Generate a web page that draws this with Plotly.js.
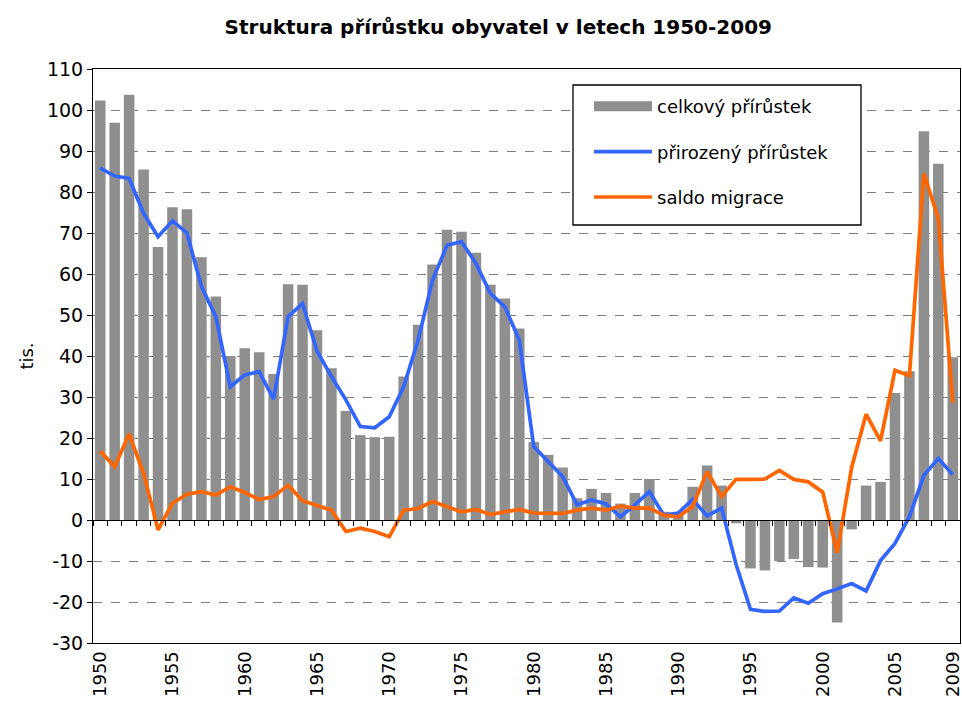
<!DOCTYPE html>
<html>
<head>
<meta charset="utf-8">
<script src="https://cdn.plot.ly/plotly-3.0.1.min.js"></script>
<style>html,body{margin:0;padding:0;background:#fff;}#chart{width:962px;height:707px;}</style>
</head>
<body>
<div id="chart"></div>
<script>
const years = [1950,1951,1952,1953,1954,1955,1956,1957,1958,1959,1960,1961,1962,1963,1964,1965,1966,1967,1968,1969,1970,1971,1972,1973,1974,1975,1976,1977,1978,1979,1980,1981,1982,1983,1984,1985,1986,1987,1988,1989,1990,1991,1992,1993,1994,1995,1996,1997,1998,1999,2000,2001,2002,2003,2004,2005,2006,2007,2008,2009];
const celkovy = [102.3,96.9,103.7,85.5,66.6,76.3,75.8,64.1,54.5,40.0,41.9,40.9,35.6,57.5,57.4,46.3,37.0,26.6,20.7,20.2,20.3,35.0,47.6,62.3,70.8,70.3,65.2,57.4,54.0,46.7,19.0,15.9,12.8,5.3,7.6,6.6,4.0,6.6,10.0,2.0,1.5,8.1,13.3,8.4,-0.8,-11.8,-12.3,-10.0,-9.5,-11.5,-11.6,-25.0,-2.3,8.4,9.3,31.0,36.3,94.8,86.9,39.7];
const prirozeny = [85.8,83.9,83.3,74.8,69.1,73.0,70.0,57.0,49.6,32.5,35.4,36.2,29.5,49.6,52.8,41.2,35.0,29.3,22.8,22.5,25.2,32.5,43.9,58.5,67.0,67.9,62.6,55.3,52.0,43.9,17.9,14.4,10.6,3.7,4.9,3.9,0.8,3.7,6.9,1.2,1.7,5.0,1.0,2.9,-10.8,-21.8,-22.3,-22.2,-19.0,-20.3,-18.0,-16.8,-15.5,-17.3,-9.9,-5.7,0.8,10.9,15.0,11.1];
const saldo = [16.8,13.0,21.0,11.4,-2.4,4.1,6.3,6.9,6.1,8.1,6.7,5.0,5.7,8.5,4.7,3.6,2.4,-2.8,-2.0,-2.8,-4.1,2.4,2.8,4.5,3.3,2.0,2.6,1.3,2.0,2.6,1.7,1.6,1.6,2.4,2.9,2.4,3.4,2.9,2.9,1.2,0.8,3.3,11.8,5.7,9.9,9.9,10.0,12.1,9.9,9.3,6.8,-8.0,12.8,25.8,19.3,36.5,35.2,84.5,73.5,28.6];
const tickYears = [1950,1955,1960,1965,1970,1975,1980,1985,1990,1995,2000,2005,2009];
const yTickVals = [-30,-20,-10,0,10,20,30,40,50,60,70,80,90,100,110];
const yTickText = ['-30','-20','-10','0','10','20','30','40','50','60','70','80','90','100','110'];
const names = ['celkový přírůstek','přirozený přírůstek','saldo migrace'];

const FONT = 'DejaVu Sans, Liberation Sans, Arial, sans-serif';
const GRAY = '#8f8f8f', BLUE = '#3366ff', ORANGE = '#ff6600';

// plot area in pixels (for converting layout boxes to paper coords)
const L = 93, R = 960, T = 69, B = 643;
const px = v => (v - L) / (R - L);
const py = v => (B - v) / (B - T);

const data = [
  {type:'bar', x:years, y:celkovy, marker:{color:GRAY}, showlegend:false, hoverinfo:'x+y'},
  {type:'scatter', mode:'lines', x:[null], y:[null], name:names[0], line:{color:GRAY, width:11}, legendgroup:'a', hoverinfo:'skip'},
  {type:'scatter', mode:'lines', x:years, y:prirozeny, name:names[1], line:{color:BLUE, width:3.7}, legendgroup:'b'},
  {type:'scatter', mode:'lines', x:years, y:saldo, name:names[2], line:{color:ORANGE, width:3.7}, legendgroup:'c'},
  {type:'scatter', mode:'markers', x:[null], y:[null], xaxis:'x2', showlegend:false, hoverinfo:'skip'}
];

const layout = {
  width:962, height:707,
  margin:{l:L, r:962-R, t:T, b:707-B},
  paper_bgcolor:'#fff', plot_bgcolor:'#fff',
  font:{family:FONT, size:18, color:'#000'},
  title:{text:'<b>Struktura přírůstku obyvatel v letech 1950-2009</b>', font:{family:FONT, size:20, color:'#000'},
         x:0.518, xref:'container', xanchor:'center', y:1-27/707, yref:'container', yanchor:'middle'},
  bargap:0.27,
  xaxis:{range:[1949.5,2009.5], tickmode:'array', tickvals:tickYears, ticktext:tickYears.map(String),
         tickangle:-90, ticks:'', ticklabeloverflow:'allow', showgrid:false, zeroline:false, showline:true, linecolor:'#000', linewidth:1, mirror:true,
         tickfont:{family:FONT, size:18, color:'#000'}},
  xaxis2:{overlaying:'x', anchor:'free', position:30/140, range:[1949.5,2009.5], tickmode:'linear', tick0:1949.5, dtick:1,
          ticks:'outside', ticklen:5, tickcolor:'#000', tickwidth:1, showticklabels:false, showgrid:false, zeroline:false,
          showline:true, linecolor:'#000', linewidth:1},
  yaxis:{range:[-30,110], tickmode:'array', tickvals:yTickVals, ticktext:yTickText, ticks:'outside', ticklen:5, tickcolor:'#000', showline:true, linecolor:'#000', linewidth:1, mirror:true,
         showgrid:true, gridcolor:'#808080', griddash:'dash', gridwidth:1, zeroline:false,
         tickfont:{family:FONT, size:19, color:'#000'},
         title:{text:'tis.', font:{family:FONT, size:18, color:'#000'}, standoff:8}},
  legend:{x:px(589), y:py(88), xanchor:'left', yanchor:'top', bgcolor:'rgba(0,0,0,0)', borderwidth:0,
          traceorder:'grouped', tracegroupgap:19, itemwidth:58, font:{family:FONT, size:18, color:'#000'}},
  shapes:[{type:'rect', xref:'paper', yref:'paper', x0:px(573), x1:px(861), y0:py(85), y1:py(225),
           line:{color:'#000', width:1.3}, fillcolor:'#fff', layer:'above'}]
};

Plotly.newPlot('chart', data, layout, {displayModeBar:false, staticPlot:true});
</script>
</body>
</html>
